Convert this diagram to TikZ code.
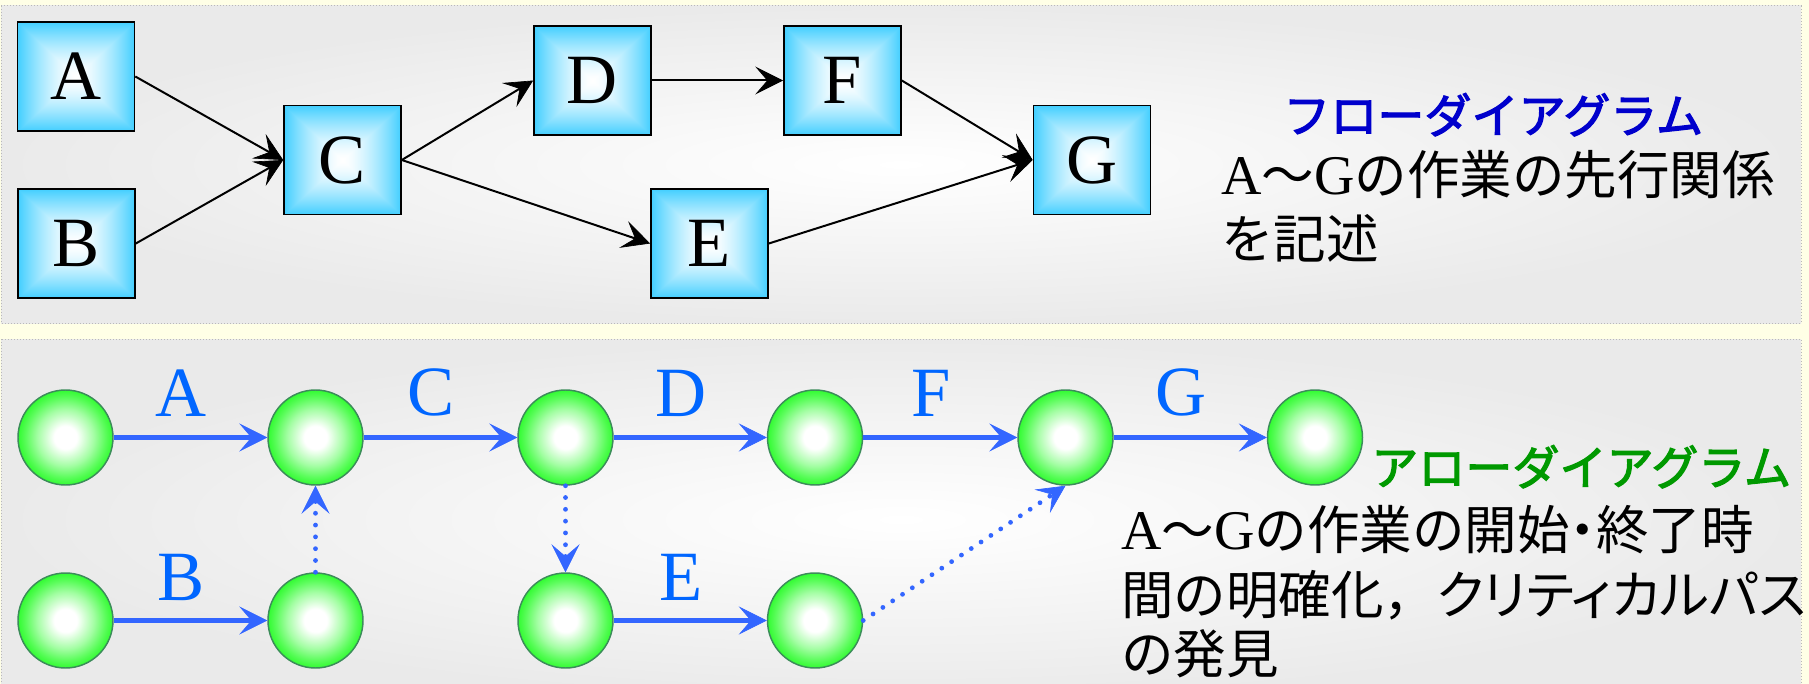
\documentclass[tikz,border=0pt]{standalone}
\usepackage{tikz}
\usepackage{fontspec}
\setmainfont{Liberation Serif}
\newfontfamily\jafont{Noto Sans CJK JP}
\newfontfamily\jafontp[RawFeature=+palt]{Noto Sans CJK JP}
\newfontfamily\jafontm[FakeBold=2.5]{Noto Sans CJK JP}
\usetikzlibrary{arrows.meta}
\definecolor{paper}{RGB}{255,255,230}
\definecolor{panelgray}{RGB}{234,234,234}
\definecolor{evgreen}{RGB}{50,252,50}
\definecolor{evedge}{RGB}{60,140,90}
\definecolor{arblue}{RGB}{51,102,255}
\definecolor{lbblue}{RGB}{0,102,255}
\definecolor{ttlblue}{RGB}{0,0,204}
\definecolor{ttlgreen}{RGB}{0,153,0}
\newcommand{\latinch}[1]{{\rmfamily\fontsize{42}{48}\selectfont #1}}
% white centre, cyan rim, square fronts
\pgfdeclarefunctionalshading{boxglow}{\pgfpoint{-50bp}{-50bp}}{\pgfpoint{50bp}{50bp}}{}{%
  abs exch abs 2 copy lt {exch} if pop 25 div dup 1 gt {pop 1} if
  dup sqrt mul
  dup 0.74 mul 1 exch sub exch 0.19 mul 1 exch sub 1
}
% white spot, green rim
\pgfdeclareradialshading{ballglow}{\pgfpoint{0bp}{0bp}}{color(0bp)=(white); color(6bp)=(white); color(15bp)=(white!55!evgreen); color(21bp)=(white!20!evgreen); color(25bp)=(evgreen); color(50bp)=(evgreen)}
\tikzset{
  panel/.style={draw=gray!55, line width=0.75pt, dash pattern=on 0.75pt off 1.5pt, inner color=white, outer color=panelgray},
  taskbox/.style={draw=black, line width=1.2pt, minimum width=87.75pt, minimum height=81.75pt, inner sep=0pt, shade, shading=boxglow, font=\fontsize{53}{60}\selectfont},
  event/.style={circle, draw=evedge, line width=1.1pt, minimum size=71.25pt, inner sep=0pt, shade, shading=ballglow},
  flow/.style={line width=1.5pt, -{Stealth[length=21pt, width=21pt, inset=9pt, line width=0.5pt]}},
  act/.style={draw=arblue, line width=3.6pt, -{Stealth[length=21pt, width=21pt, inset=9pt, line width=0.5pt]}},
  dummy/.style={act, line cap=round, dash pattern=on 0pt off 8.85pt},
  actlbl/.style={text=lbblue, font=\fontsize{53}{60}\selectfont, inner sep=0pt}
}

\begin{document}
\begin{tikzpicture}[x=0.75pt,y=0.75pt,yscale=-1,xscale=1]
\useasboundingbox (0,0) rectangle (1809,684);
\clip (0,0) rectangle (1809,684);

%Shape: Rectangle (backing)
\fill[paper] (0,0) rectangle (1809,684);
%Shape: Rectangle (upper panel)
\draw[panel] (1,6) rectangle (1801,323);
%Shape: Rectangle (lower panel)
\draw[panel] (1,339) rectangle (1801,700);

% Flow diagram
\node[taskbox] (tA) at (76,76.5) {A};
\node[taskbox] (tB) at (76.5,243.5) {B};
\node[taskbox] (tC) at (342.5,160) {C};
\node[taskbox] (tD) at (592.5,80.5) {D};
\node[taskbox] (tE) at (709.5,243.5) {E};
\node[taskbox] (tF) at (842.5,80.5) {F};
\node[taskbox] (tG) at (1092,160) {G};

%Straight Lines
\draw[flow] (tA.east) -- (tC.west);
\draw[flow] (tB.east) -- (tC.west);
\draw[flow] (tC.east) -- (tD.west);
\draw[flow] (tC.east) -- (tE.west);
\draw[flow] (tD.east) -- (tF.west);
\draw[flow] (tF.east) -- (tG.west);
\draw[flow] (tE.east) -- (tG.west);

% Text Node
\node[anchor=base west, inner sep=0pt, text=ttlblue, font=\jafontm\fontsize{35.3}{40}\selectfont] (flowttl) at (1283,133) {フローダイアグラム};
% Text Node
\node[anchor=base west, inner sep=0pt, font=\jafont\fontsize{39.4}{48}\selectfont] (flowtxt1) at (1221,195) {\latinch{A}～\latinch{G}の作業の先行関係};
% Text Node
\node[anchor=base west, inner sep=0pt, font=\jafont\fontsize{39.4}{48}\selectfont] (flowtxt2) at (1221,259) {を記述};

% Arrow diagram
\node[event] (p1) at (65.5,437.5) {};
\node[event] (p2) at (315.5,437.5) {};
\node[event] (p3) at (565.5,437.5) {};
\node[event] (p4) at (815,437.5) {};
\node[event] (p5) at (1065.5,437.5) {};
\node[event] (p6) at (1315,437.5) {};
\node[event] (q1) at (65.5,620.5) {};
\node[event] (q2) at (315.5,620.5) {};
\node[event] (q3) at (565.5,620.5) {};
\node[event] (q4) at (815,620.5) {};

%Straight Lines
\draw[act] (p1) -- node[actlbl, pos=0.44, above=13.9pt] (lblA) {A} (p2);
\draw[act] (p2) -- node[actlbl, pos=0.44, above=13.9pt] (lblC) {C} (p3);
\draw[act] (p3) -- node[actlbl, pos=0.44, above=13.9pt] (lblD) {D} (p4);
\draw[act] (p4) -- node[actlbl, pos=0.44, above=13.9pt] (lblF) {F} (p5);
\draw[act] (p5) -- node[actlbl, pos=0.44, above=13.9pt] (lblG) {G} (p6);
\draw[act] (q1) -- node[actlbl, pos=0.44, above=13.2pt] (lblB) {B} (q2);
\draw[act] (q3) -- node[actlbl, pos=0.44, above=13.2pt] (lblE) {E} (q4);
%Dotted Lines
\draw[dummy] (q2.north) -- (p2.south);
\draw[dummy] (p3.south) -- (q3.north);
\draw[dummy] (q4.east) -- (p5.south);

% Text Node
\node[anchor=base west, inner sep=0pt, text=ttlgreen, font=\jafontm\fontsize{35.3}{40}\selectfont] (arrowttl) at (1371,485) {アローダイアグラム};
% Text Node
\node[anchor=base west, inner sep=0pt, font=\jafont\fontsize{39.4}{48}\selectfont] (arrowtxt1) at (1121,549) {\latinch{A}～\latinch{G}の作業の開始{\jafontp ・}終了時};
% Text Node
\node[anchor=base west, inner sep=0pt, font=\jafont\fontsize{39.4}{48}\selectfont] (arrowtxt2) at (1121,614) {間の明確化，{\jafontp クリティカルパス}};
% Text Node
\node[anchor=base west, inner sep=0pt, font=\jafont\fontsize{39.4}{48}\selectfont] (arrowtxt3) at (1121,673) {の発見};

\end{tikzpicture}
\end{document}
